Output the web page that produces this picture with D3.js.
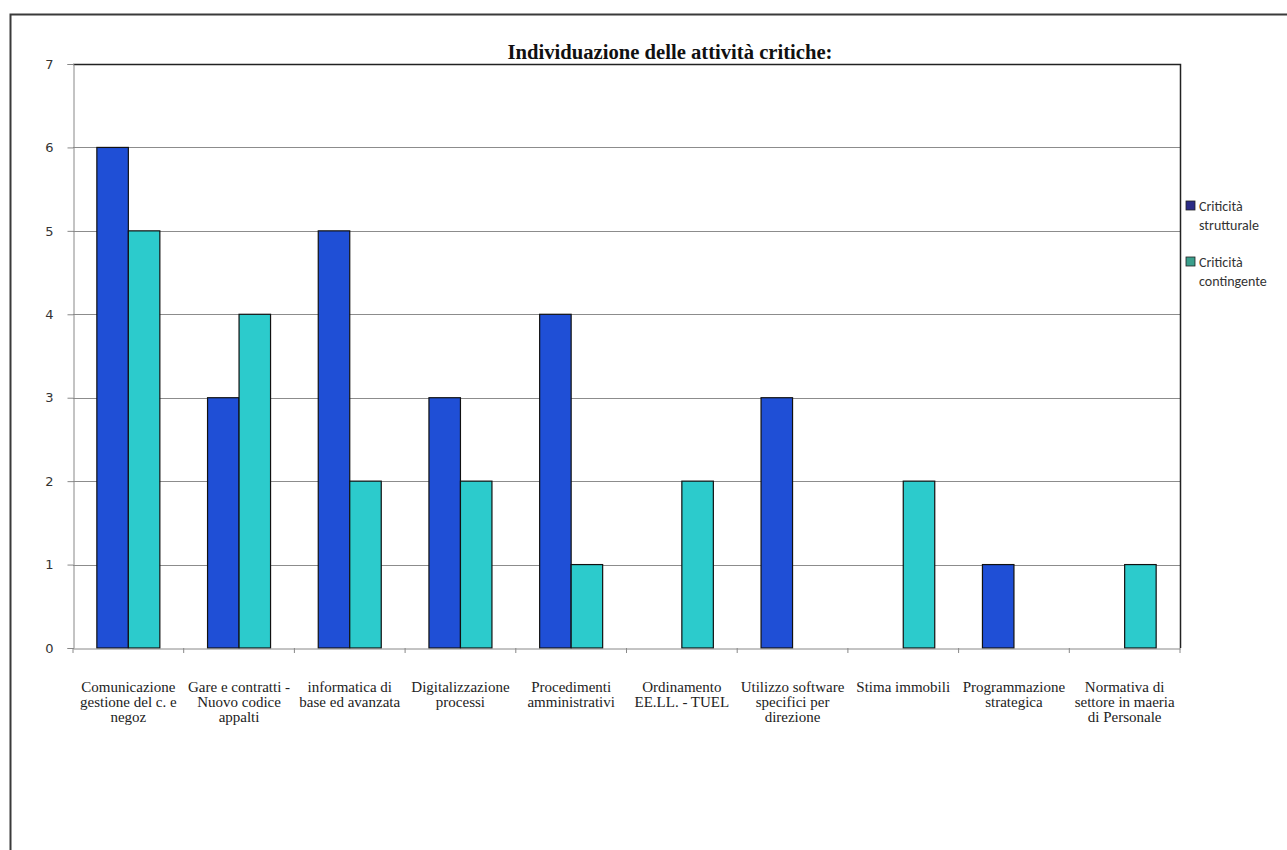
<!DOCTYPE html>
<html>
<head>
<meta charset="utf-8">
<script src="https://cdn.jsdelivr.net/npm/d3@7"></script>
<style>
  body { margin: 0; background: #fff; }
</style>
</head>
<body>
<div id="chart"></div>
<script>
const categories = [
    ["Comunicazione", "gestione del c. e", "negoz"],
    ["Gare e contratti -", "Nuovo codice", "appalti"],
    ["informatica di", "base ed avanzata"],
    ["Digitalizzazione", "processi"],
    ["Procedimenti", "amministrativi"],
    ["Ordinamento", "EE.LL. - TUEL"],
    ["Utilizzo software", "specifici per", "direzione"],
    ["Stima immobili"],
    ["Programmazione", "strategica"],
    ["Normativa di", "settore in maeria", "di Personale"]
]
const strutturale = [6, 3, 5, 3, 4, 0, 3, 0, 1, 0]
const contingente = [5, 4, 2, 2, 1, 2, 0, 2, 0, 1]
const seriesNames = [["Criticità", "strutturale"], ["Criticità", "contingente"]]
const yTicks = [0, 1, 2, 3, 4, 5, 6, 7]

const width = 1287
const height = 850
const marginLeft = 73
const marginRight = 107     // plot right edge at 1180
const marginTop = 64
const marginBottom = 202    // plot bottom at 648

const colors = ["#1f4fd6", "#2ccbcc"]
const legendColors = ["#2b2b86", "#3a9f8c"]

const svg = d3.select("#chart")
    .append("svg")
    .attr("width", width)
    .attr("height", height)
    .attr("viewBox", [0, 0, width, height])

// outer frame
svg.append("path")
    .attr("d", `M10.5,${height} L10.5,14.5 L${width},14.5`)
    .attr("fill", "none")
    .attr("stroke", "#3a3a3a")
    .attr("stroke-width", 2)

const idx = d3.range(categories.length)
const xScale = d3.scaleBand(idx, [marginLeft, width - marginRight])
const yScale = d3.scaleLinear([0, 7], [height - marginBottom, marginTop])
const barW = 31.5

// grid lines
svg.append("g")
    .attr("stroke", "#8c8c8c")
    .attr("stroke-width", 1)
    .selectAll("line")
    .data(yTicks.filter(d => d > 0 && d < 7))
    .join("line")
    .attr("x1", marginLeft)
    .attr("x2", width - marginRight)
    .attr("y1", d => Math.round(yScale(d)) + 0.5)
    .attr("y2", d => Math.round(yScale(d)) + 0.5)

// bars
const series = [strutturale, contingente]
series.forEach((vals, s) => {
    svg.append("g")
        .selectAll("rect")
        .data(idx.filter(i => vals[i] > 0))
        .join("rect")
        .attr("x", i => xScale(i) + xScale.bandwidth() / 2 - barW + s * barW)
        .attr("y", i => yScale(vals[i]))
        .attr("width", barW)
        .attr("height", i => yScale(0) - yScale(vals[i]))
        .attr("fill", colors[s])
        .attr("stroke", "#111")
        .attr("stroke-width", 1.2)
})

// plot border top & right
svg.append("path")
    .attr("d", `M${marginLeft},${marginTop + 0.5} L${width - marginRight + 0.5},${marginTop + 0.5} L${width - marginRight + 0.5},${height - marginBottom}`)
    .attr("fill", "none")
    .attr("stroke", "#222")
    .attr("stroke-width", 1.5)

// y axis
const yAxis = d3.axisLeft(yScale).tickValues(yTicks).tickSize(6).tickPadding(14).tickFormat(d3.format("d"))
svg.append("g")
    .attr("transform", `translate(${marginLeft + 0.5},0)`)
    .call(yAxis)
    .call(g => g.select(".domain").attr("stroke", "#888"))
    .call(g => g.selectAll(".tick line").attr("stroke", "#888"))
    .call(g => g.selectAll(".tick text")
        .attr("font-family", "'DejaVu Sans', sans-serif")
        .attr("font-size", 13)
        .attr("fill", "#333"))

// x axis
const xAxis = d3.axisBottom(xScale).tickSize(0).tickFormat("")
svg.append("g")
    .attr("transform", `translate(0,${height - marginBottom + 0.5})`)
    .call(xAxis)
    .call(g => g.select(".domain").attr("stroke", "#888"))
    .call(g => g.selectAll(".tick").remove())

svg.append("g")
    .attr("stroke", "#888")
    .selectAll("line")
    .data(d3.range(categories.length + 1))
    .join("line")
    .attr("x1", i => marginLeft + i * xScale.step())
    .attr("x2", i => marginLeft + i * xScale.step())
    .attr("y1", height - marginBottom)
    .attr("y2", height - marginBottom + 5)

// category labels
svg.append("g")
    .attr("font-family", "'Liberation Serif', 'Times New Roman', serif")
    .attr("font-size", 15)
    .attr("fill", "#222")
    .attr("text-anchor", "middle")
    .selectAll("text")
    .data(idx)
    .join("text")
    .attr("x", i => xScale(i) + xScale.bandwidth() / 2)
    .attr("y", 692)
    .selectAll("tspan")
    .data(i => categories[i].map(t => ({ t, i })))
    .join("tspan")
    .attr("x", d => xScale(d.i) + xScale.bandwidth() / 2)
    .attr("dy", (d, j) => j === 0 ? 0 : 15)
    .text(d => d.t)

// title
svg.append("text")
    .attr("x", 670)
    .attr("y", 59)
    .attr("text-anchor", "middle")
    .attr("font-family", "'Liberation Serif', 'Times New Roman', serif")
    .attr("font-weight", "bold")
    .attr("font-size", 20)
    .attr("textLength", 325)
    .attr("lengthAdjust", "spacingAndGlyphs")
    .attr("fill", "#111")
    .text("Individuazione delle attività critiche:")

// legend
const legend = svg.append("g")
    .attr("font-family", "Carlito, 'Open Sans', sans-serif")
    .attr("font-size", 14)
    .attr("fill", "#333")
seriesNames.forEach((lines, s) => {
    const y0 = 206 + s * 56
    legend.append("rect")
        .attr("x", 1186)
        .attr("y", y0 - 5)
        .attr("width", 9)
        .attr("height", 9)
        .attr("fill", legendColors[s])
        .attr("stroke", "#222")
        .attr("stroke-width", 0.8)
    legend.append("text")
        .attr("x", 1199)
        .attr("y", y0 + 5)
        .selectAll("tspan")
        .data(lines)
        .join("tspan")
        .attr("x", 1199)
        .attr("dy", (d, j) => j === 0 ? 0 : 19)
        .text(d => d)
})
</script>
</body>
</html>
